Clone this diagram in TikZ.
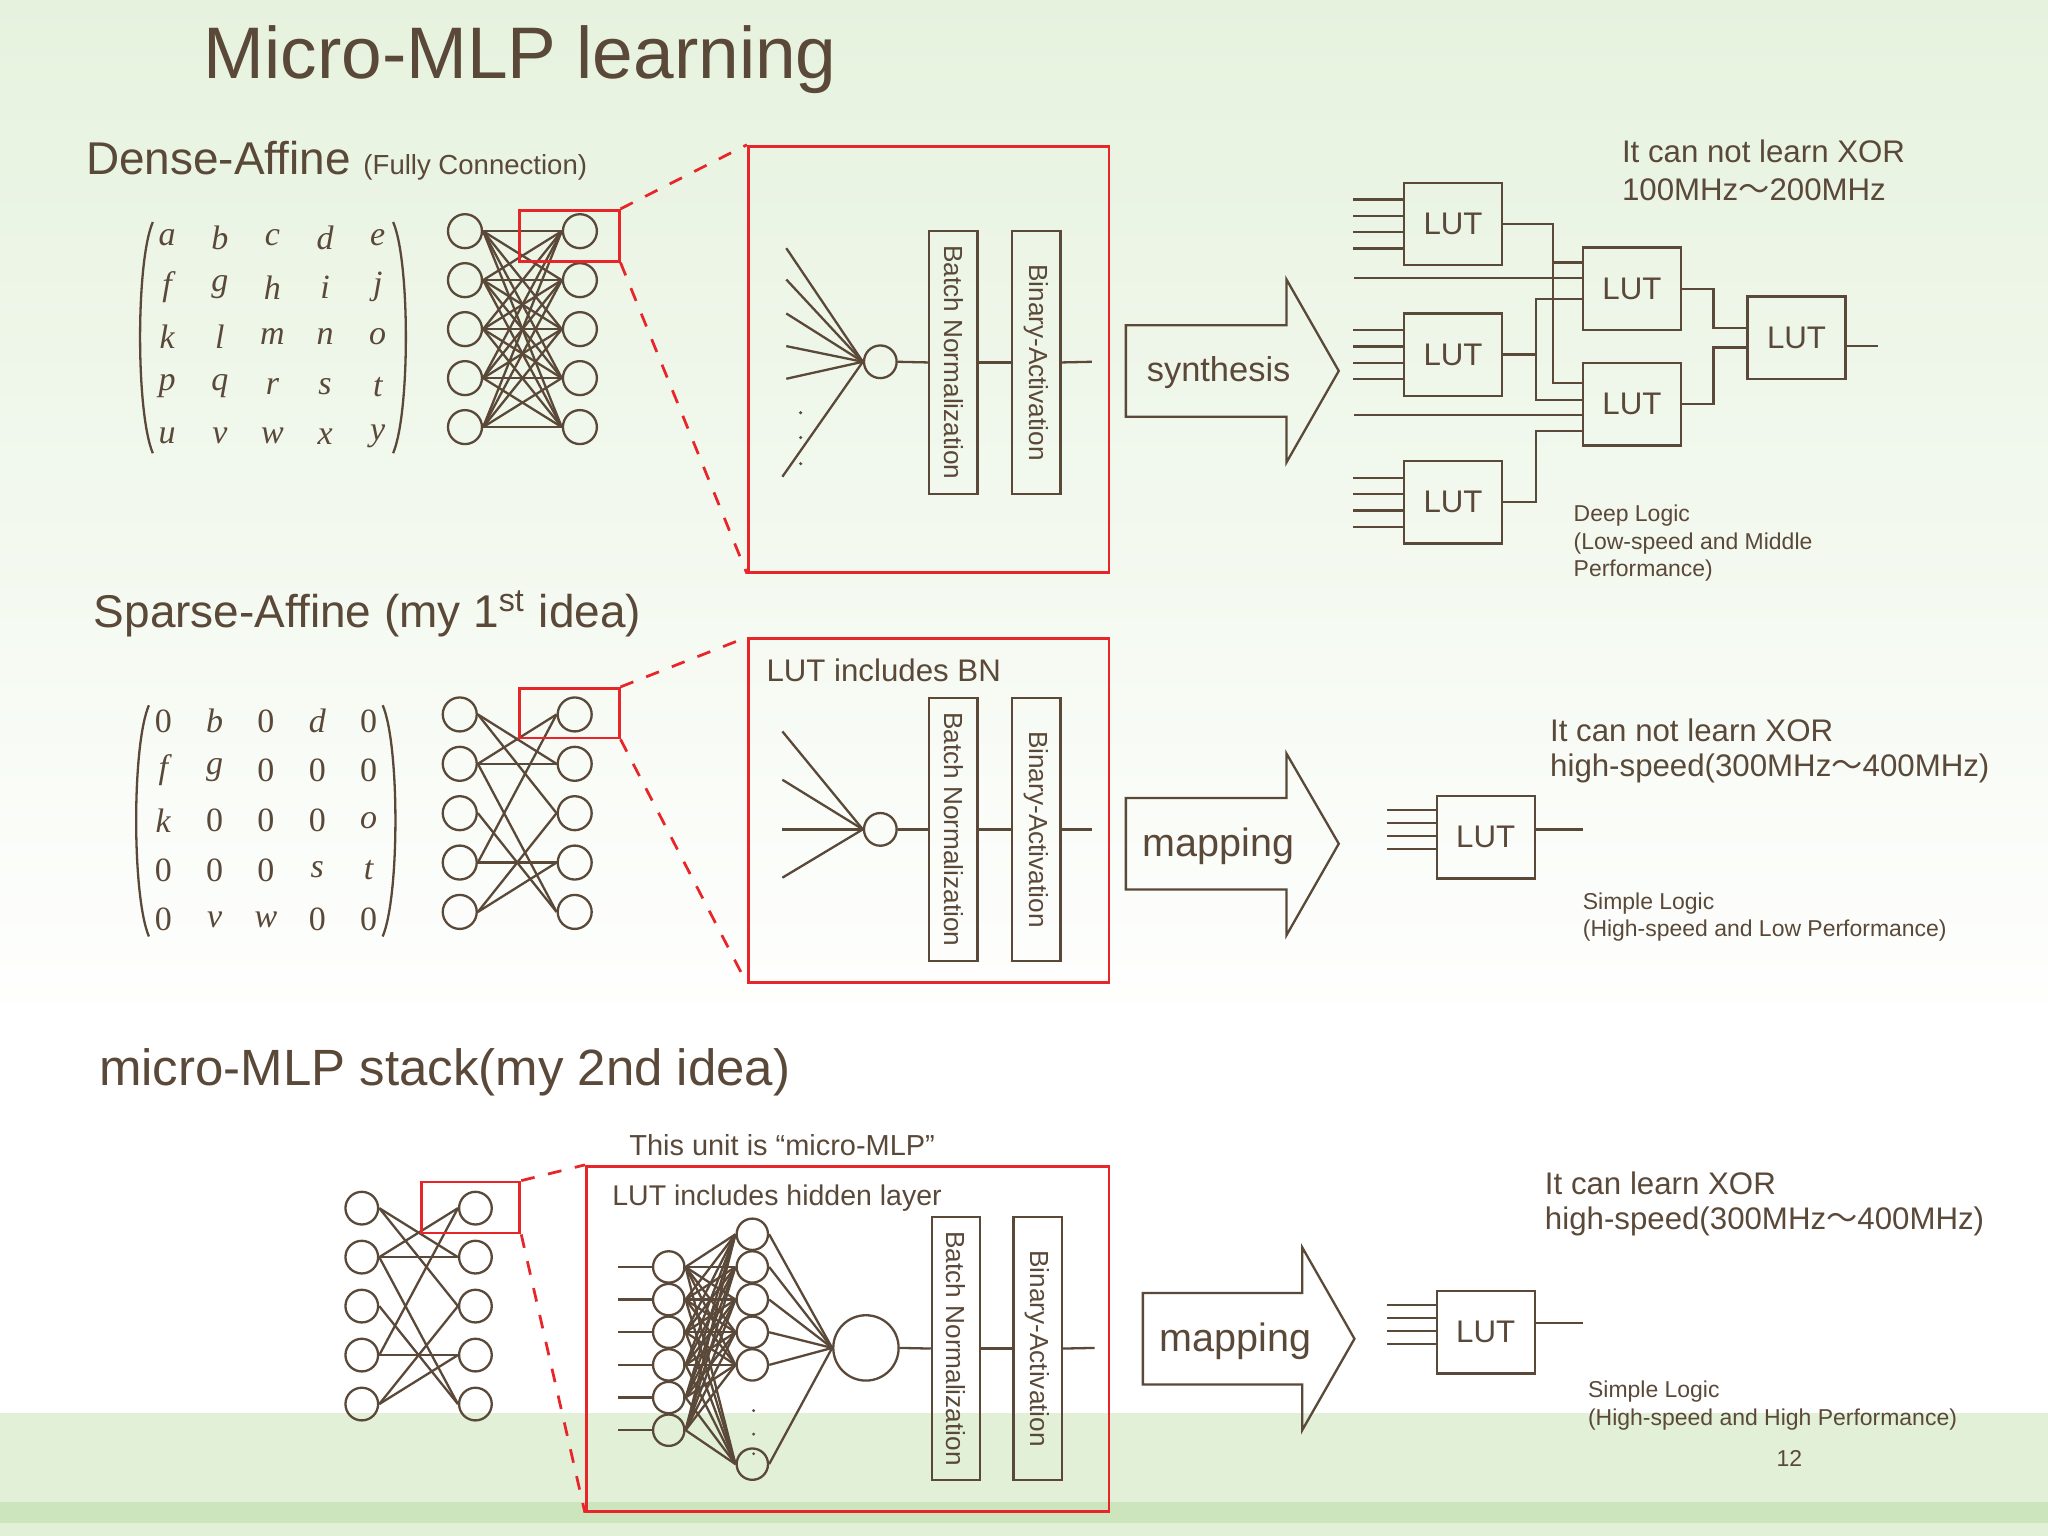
\documentclass[tikz,border=0pt]{standalone}
\usepackage{fontspec}
\setmainfont{Liberation Sans}
\newfontfamily\mser{Liberation Serif}
\newfontfamily\cjk{Noto Sans CJK JP}
\usetikzlibrary{calc}
\definecolor{br}{HTML}{5A4838}
\definecolor{rd}{HTML}{E8262A}
\definecolor{bgt}{RGB}{230,242,222}
\definecolor{bgb}{RGB}{226,240,216}
\definecolor{bgd}{RGB}{204,229,188}
\newcommand{\zr}{{\upshape 0}}
\newcommand{\wv}{{\cjk ～}}
\begin{document}
\begin{tikzpicture}[x=0.01cm,y=-0.01cm,line width=0.5pt,draw=br,text=br,
  c/.style={circle,draw=br,inner sep=0pt,minimum size=0.26cm},
  lut/.style={draw=br,minimum width=0.75cm,minimum height=0.63cm,inner sep=0pt,font=\fontsize{6.8}{8}\selectfont},
  vbox/.style={draw=br,minimum width=2.01cm,minimum height=0.37cm,inner sep=0pt,rotate=-90,font=\fontsize{5.7}{7}\selectfont},
  redb/.style={draw=rd,line width=0.6pt},
  redd/.style={draw=rd,dashed,line width=0.6pt},
  txt/.style={anchor=west,inner sep=0pt,font=\fontsize{6.8}{8.5}\selectfont},
  stxt/.style={anchor=west,inner sep=0pt,font=\fontsize{5}{6}\selectfont,align=left},
  head/.style={anchor=west,inner sep=0pt,font=\fontsize{10}{12}\selectfont},
  mx/.style={inner sep=0pt,font=\mser\itshape\fontsize{7.4}{9}\selectfont},
  arr/.style={draw=br,line join=miter}]
\useasboundingbox (0,0) rectangle (1568,1176);
% background
\shade[top color=bgt,bottom color=white] (0,0) rectangle (1568,800);
\fill[white] (0,800) rectangle (1568,1082);
\fill[bgb] (0,1082) rectangle (1568,1150);
\fill[bgd] (0,1150) rectangle (1568,1166);
\fill[bgb] (0,1166) rectangle (1568,1176);

% title
\node[anchor=west,inner sep=0pt,font=\fontsize{15.9}{18}\selectfont] (title) at (155,46) {Micro-MLP learning};

%% ---------- Section 1
\node[head] (h1) at (65,123) {Dense-Affine \fontsize{6}{7}\selectfont(Fully Connection)};
\draw (117,170) .. controls (104,200) and (104,316) .. (117,347);
\draw (301,170) .. controls (314,200) and (314,316) .. (301,347);
\foreach \r [count=\i] in {{a,b,c,d,e},{f,g,h,i,j},{k,l,m,n,o},{p,q,r,s,t},{u,v,w,x,y}}{
  \foreach \e [count=\j] in \r {
    \node[mx] (m1-\i-\j) at ({128+40.3*(\j-1)},{182+38*(\i-1)}) {\e};
  }}
\foreach \i in {1,...,5}{
  \node[c] (a\i) at (356,{177+37.5*(\i-1)}) {};
  \node[c] (b\i) at (444,{177+37.5*(\i-1)}) {};}
\foreach \i in {1,...,5}{\foreach \j in {1,...,5}{\draw (a\i.east) -- (b\j.west);}}
\node[redb,minimum width=0.76cm,minimum height=0.39cm,inner sep=0pt] (rb1) at (436,180.5) {};
\node[redb,minimum width=2.76cm,minimum height=3.26cm,inner sep=0pt] (big1) at (711,275) {};
\draw[redd] (rb1.north east) -- (big1.north west);
\draw[redd] (rb1.south east) -- (big1.south west);
\node[c,minimum size=0.25cm] (n1) at (674,277) {};
\foreach \y in {190,214,240,265,290}{\coordinate (f1\y) at (602,\y); \draw (f1\y) -- (n1.west);}
\coordinate (f1z) at (599,365); \draw (f1z) -- (n1.west);
\foreach \y in {316,335,355}{\fill[br] (613,\y) circle (1.3);}
\node[vbox] (bn1) at (730,277.5) {Batch Normalization};
\node[vbox] (ba1) at (793.5,277.5) {Binary-Activation};
\coordinate (o1) at (836,277);
\draw (n1.east) -- (bn1.south); \draw (bn1.north) -- (ba1.south); \draw (ba1.north) -- (o1);
% arrow
\draw[arr] (862,249) -- (985,249) -- (985,214) -- (1025,284) -- (985,354) -- (985,319) -- (862,319) -- cycle;
\node[inner sep=0pt,font=\fontsize{7.5}{9}\selectfont] (syn) at (933,285) {synthesis};
% LUT network
\node[lut] (LA) at (1112.5,171.5) {LUT};
\node[lut] (LB) at (1112.5,271.5) {LUT};
\node[lut] (LE) at (1112.5,384.5) {LUT};
\node[lut] (LC) at (1249.5,221) {LUT};
\node[lut] (LD) at (1249.5,309.5) {LUT};
\node[lut] (LF) at (1375.5,258.5) {LUT};
\foreach \L in {LA,LB,LE}{
  \foreach \k in {-1.5,-0.5,0.5,1.5}{
    \draw ($(\L.west)+(-38,{12.5*\k})$) -- ($(\L.west)+(0,{12.5*\k})$);}}
\coordinate (iC) at (1037,213); \coordinate (iD) at (1037,318);
\draw (iC) -- (iC -| LC.west);
\draw (iD) -- (iD -| LD.west);
\draw (LA.east) -- ++(38,0) coordinate (av) -- (av |- 0,201) -- (LC.west |- 0,201);
\draw (av |- 0,201) -- (av |- 0,293) -- (LD.west |- 0,293);
\draw (LB.east) -- ++(25,0) coordinate (bv) -- (bv |- 0,229) -- (LC.west |- 0,229);
\draw (bv) -- (bv |- 0,306) -- (LD.west |- 0,306);
\draw (LE.east) -- ++(25,0) coordinate (ev) -- (ev |- 0,330) -- (LD.west |- 0,330);
\draw (LC.east) -- ++(24,0) coordinate (cv) -- (cv |- 0,251) -- (LF.west |- 0,251);
\draw (LD.east) -- ++(24,0) coordinate (dv) -- (dv |- 0,266) -- (LF.west |- 0,266);
\coordinate (oF) at (1438,265); \draw (LF.east |- oF) -- (oF);
\node[txt] (t1a) at (1241,116) {It can not learn XOR};
\node[txt] (t1b) at (1241,145) {100MHz\wv200MHz};
\node[stxt] (t1c) at (1204,416) {Deep Logic\\(Low-speed and Middle\\Performance)};

%% ---------- Section 2
\node[head] (h2) at (71,470) {Sparse-Affine (my 1\textsuperscript{st} idea)};
\draw (114,540) .. controls (101,570) and (101,686) .. (114,717);
\draw (293,540) .. controls (306,570) and (306,686) .. (293,717);
\foreach \r [count=\i] in {{\zr,b,\zr,d,\zr},{f,g,\zr,\zr,\zr},{k,\zr,\zr,\zr,o},{\zr,\zr,\zr,s,t},{\zr,v,w,\zr,\zr}}{
  \foreach \e [count=\j] in \r {
    \node[mx] (m2-\i-\j) at ({125+39.3*(\j-1)},{552+38*(\i-1)}) {\e};
  }}
\foreach \i in {1,...,5}{
  \node[c] (c\i) at (352,{547+37.8*(\i-1)}) {};
  \node[c] (d\i) at (440,{547+37.8*(\i-1)}) {};}
\foreach \i/\j in {1/2,1/3,2/1,2/2,2/5,3/5,4/1,4/4,5/3,5/4}{\draw (c\i.east) -- (d\j.west);}
\node[redb,minimum width=0.76cm,minimum height=0.38cm,inner sep=0pt] (rb2) at (436,546) {};
\node[redb,minimum width=2.76cm,minimum height=2.63cm,inner sep=0pt] (big2) at (711,620.5) {};
\draw[redd] (rb2.north east) -- (big2.north west);
\draw[redd] (rb2.south east) -- (big2.south west);
\node[txt] (lbn) at (586,513) {LUT includes BN};
\node[c,minimum size=0.25cm] (n2) at (674,635) {};
\foreach \y in {560,597,635,672}{\coordinate (f2\y) at (599,\y); \draw (f2\y) -- (n2.west);}
\node[vbox] (bn2) at (730,635) {Batch Normalization};
\node[vbox] (ba2) at (793.5,635) {Binary-Activation};
\coordinate (o2) at (836,635);
\draw (n2.east) -- (bn2.south); \draw (bn2.north) -- (ba2.south); \draw (ba2.north) -- (o2);
\draw[arr] (862,611) -- (985,611) -- (985,577) -- (1025,646) -- (985,716) -- (985,681) -- (862,681) -- cycle;
\node[inner sep=0pt,font=\fontsize{8.6}{10}\selectfont] (map2) at (933,648) {mapping};
\node[lut] (L2) at (1137.5,641) {LUT};
\foreach \k in {-1.5,-0.5,0.5,1.5}{\draw ($(L2.west)+(-37,{10*\k-6})$) -- ($(L2.west)+(0,{10*\k-6})$);}
\coordinate (o2L) at (1212,635); \draw (L2.east |- o2L) -- (o2L);
\node[txt] (t2a) at (1186,559) {It can not learn XOR};
\node[txt] (t2b) at (1186,588) {high-speed(300MHz\wv400MHz)};
\node[stxt] (t2c) at (1211,702) {Simple Logic\\(High-speed and Low Performance)};

%% ---------- Section 3
\node[anchor=west,inner sep=0pt,font=\fontsize{11.1}{13}\selectfont] (h3) at (75,821) {micro-MLP stack(my 2nd idea)};
\foreach \i in {1,...,5}{
  \node[c,minimum size=0.25cm] (e\i) at (277,{925+37.5*(\i-1)}) {};
  \node[c,minimum size=0.25cm] (g\i) at (364,{925+37.5*(\i-1)}) {};}
\foreach \i/\j in {1/2,1/3,2/1,2/2,2/5,3/5,4/1,4/4,5/3,5/4}{\draw (e\i.east) -- (g\j.west);}
\node[redb,minimum width=0.75cm,minimum height=0.39cm,inner sep=0pt] (rb3) at (360.5,924.5) {};
\node[redb,minimum width=4cm,minimum height=2.64cm,inner sep=0pt] (big3) at (649,1025) {};
\draw[redd] (rb3.north east) -- (big3.north west);
\draw[redd] (rb3.south east) -- (big3.south west);
\node[txt,font=\fontsize{6.3}{8}\selectfont] (unit) at (481,877) {This unit is “micro-MLP”};
\node[txt,font=\fontsize{6.2}{8}\selectfont] (lhid) at (468,917) {LUT includes hidden layer};
\foreach \i in {1,...,6}{
  \node[c,minimum size=0.24cm] (h\i) at (512,{970+25*(\i-1)}) {};
  \coordinate (in\i) at (473,{970+25*(\i-1)});
  \draw (in\i) -- (h\i.west);}
\foreach \i in {1,...,5}{\node[c,minimum size=0.24cm] (k\i) at (576,{945+25*(\i-1)}) {};}
\node[c,minimum size=0.24cm] (k6) at (576,1121) {};
\foreach \y in {1080,1098,1113}{\fill[br] (577,\y) circle (1.2);}
\foreach \i in {1,...,6}{\foreach \j in {1,...,6}{\draw (h\i.east) -- (k\j.west);}}
\node[c,minimum size=0.5cm] (bigN) at (663,1032) {};
\foreach \j in {1,...,6}{\draw (k\j.east) -- (bigN.west);}
\node[vbox] (bn3) at (732,1032.5) {Batch Normalization};
\node[vbox] (ba3) at (794.5,1032.5) {Binary-Activation};
\coordinate (o3) at (838,1032);
\draw (bigN.east) -- (bn3.south); \draw (bn3.north) -- (ba3.south); \draw (ba3.north) -- (o3);
\draw[arr] (875,990) -- (997,990) -- (997,955) -- (1037,1025) -- (997,1095) -- (997,1060) -- (875,1060) -- cycle;
\node[inner sep=0pt,font=\fontsize{8.6}{10}\selectfont] (map3) at (946,1027) {mapping};
\node[lut] (L3) at (1137.5,1020) {LUT};
\foreach \k in {-1.5,-0.5,0.5,1.5}{\draw ($(L3.west)+(-37,{10*\k-6})$) -- ($(L3.west)+(0,{10*\k-6})$);}
\coordinate (o3L) at (1212,1013); \draw (L3.east |- o3L) -- (o3L);
\node[txt] (t3a) at (1182,906) {It can learn XOR};
\node[txt] (t3b) at (1182,935) {high-speed(300MHz\wv400MHz)};
\node[stxt] (t3c) at (1215,1076) {Simple Logic\\(High-speed and High Performance)};
\node[inner sep=0pt,font=\fontsize{5}{6}\selectfont] (pg) at (1370,1117) {12};
\end{tikzpicture}
\end{document}
